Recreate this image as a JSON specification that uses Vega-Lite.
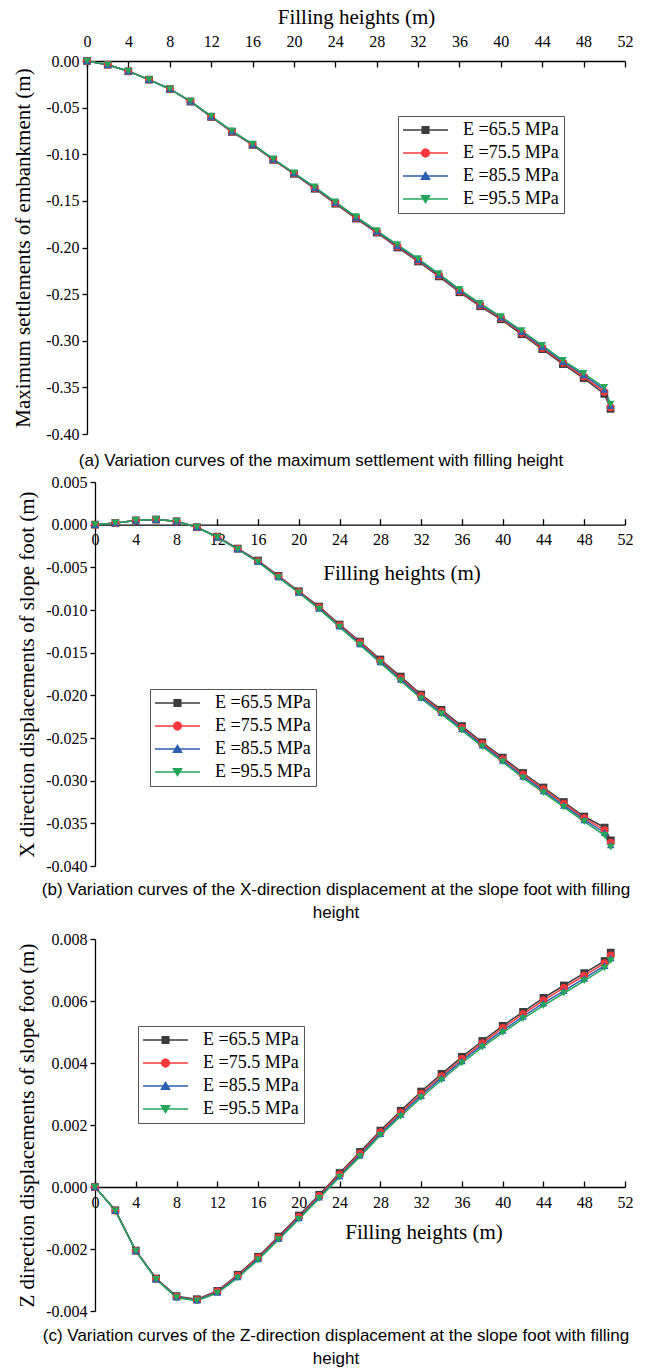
{
  "$schema": "https://vega.github.io/schema/vega-lite/v6.json",
  "background": "white",
  "padding": {"left": 12, "top": 6, "right": 0, "bottom": 0},
  "config": {
    "view": {"stroke": null},
    "axis": {"labelFlush": false, "labelOverlap": false, "grid": false, "domainColor": "#000", "tickColor": "#000", "labelColor": "#000", "titleColor": "#000", "labelFont": "Liberation Serif", "titleFont": "Liberation Serif", "labelFontSize": 16, "titleFontSize": 21, "titleFontWeight": "normal", "domainWidth": 1.3, "tickWidth": 1.3},
    "title": {"font": "Liberation Sans", "fontSize": 17, "fontWeight": "normal", "color": "#000", "lineHeight": 23}
  },
  "datasets": {
    "main": [
      {"h":0,"s":"65.5","a":0,"b":0,"c":0},
      {"h":2,"s":"65.5","a":-0.004,"b":0.0002,"c":-0.00075},
      {"h":4,"s":"65.5","a":-0.011,"b":0.0005,"c":-0.00205},
      {"h":6,"s":"65.5","a":-0.020,"b":0.0006,"c":-0.00295},
      {"h":8,"s":"65.5","a":-0.030,"b":0.0004,"c":-0.00352},
      {"h":10,"s":"65.5","a":-0.0435,"b":-0.0003,"c":-0.00362},
      {"h":12,"s":"65.5","a":-0.060,"b":-0.0014,"c":-0.00335},
      {"h":14,"s":"65.5","a":-0.076,"b":-0.0028,"c":-0.00283},
      {"h":16,"s":"65.5","a":-0.090,"b":-0.0042,"c":-0.00225},
      {"h":18,"s":"65.5","a":-0.106,"b":-0.0060,"c":-0.0016},
      {"h":20,"s":"65.5","a":-0.121,"b":-0.0078,"c":-0.00092},
      {"h":22,"s":"65.5","a":-0.137,"b":-0.0096,"c":-0.00025},
      {"h":24,"s":"65.5","a":-0.153,"b":-0.0117,"c":0.00045},
      {"h":26,"s":"65.5","a":-0.169,"b":-0.0137,"c":0.00113},
      {"h":28,"s":"65.5","a":-0.184,"b":-0.0158,"c":0.00182},
      {"h":30,"s":"65.5","a":-0.200,"b":-0.0178,"c":0.00246},
      {"h":32,"s":"65.5","a":-0.215,"b":-0.0199,"c":0.00308},
      {"h":34,"s":"65.5","a":-0.231,"b":-0.0217,"c":0.00365},
      {"h":36,"s":"65.5","a":-0.248,"b":-0.0236,"c":0.0042},
      {"h":38,"s":"65.5","a":-0.263,"b":-0.0255,"c":0.00471},
      {"h":40,"s":"65.5","a":-0.277,"b":-0.0273,"c":0.0052},
      {"h":42,"s":"65.5","a":-0.293,"b":-0.0291,"c":0.00565},
      {"h":44,"s":"65.5","a":-0.309,"b":-0.0308,"c":0.0061},
      {"h":46,"s":"65.5","a":-0.325,"b":-0.0325,"c":0.0065},
      {"h":48,"s":"65.5","a":-0.340,"b":-0.0342,"c":0.0069},
      {"h":50,"s":"65.5","a":-0.357,"b":-0.0355,"c":0.00729},
      {"h":50.6,"s":"65.5","a":-0.373,"b":-0.0370,"c":0.00756},
      {"h":0,"s":"75.5","a":0,"b":0,"c":0},
      {"h":2,"s":"75.5","a":-0.004,"b":0.0002,"c":-0.00076},
      {"h":4,"s":"75.5","a":-0.011,"b":0.0005,"c":-0.00206},
      {"h":6,"s":"75.5","a":-0.020,"b":0.0006,"c":-0.00296},
      {"h":8,"s":"75.5","a":-0.030,"b":0.0004,"c":-0.00354},
      {"h":10,"s":"75.5","a":-0.0433,"b":-0.0003,"c":-0.00364},
      {"h":12,"s":"75.5","a":-0.0597,"b":-0.00143,"c":-0.00337},
      {"h":14,"s":"75.5","a":-0.0757,"b":-0.00283,"c":-0.00286},
      {"h":16,"s":"75.5","a":-0.0897,"b":-0.00427,"c":-0.00228},
      {"h":18,"s":"75.5","a":-0.1057,"b":-0.00607,"c":-0.00163},
      {"h":20,"s":"75.5","a":-0.1207,"b":-0.00787,"c":-0.00096},
      {"h":22,"s":"75.5","a":-0.1363,"b":-0.0097,"c":-0.00029},
      {"h":24,"s":"75.5","a":-0.1523,"b":-0.0118,"c":0.00041},
      {"h":26,"s":"75.5","a":-0.1683,"b":-0.01383,"c":0.00108},
      {"h":28,"s":"75.5","a":-0.1833,"b":-0.01593,"c":0.00177},
      {"h":30,"s":"75.5","a":-0.199,"b":-0.01797,"c":0.0024},
      {"h":32,"s":"75.5","a":-0.214,"b":-0.02007,"c":0.00301},
      {"h":34,"s":"75.5","a":-0.230,"b":-0.02187,"c":0.00358},
      {"h":36,"s":"75.5","a":-0.247,"b":-0.02377,"c":0.00413},
      {"h":38,"s":"75.5","a":-0.262,"b":-0.02567,"c":0.00464},
      {"h":40,"s":"75.5","a":-0.276,"b":-0.02747,"c":0.00513},
      {"h":42,"s":"75.5","a":-0.2917,"b":-0.0293,"c":0.00558},
      {"h":44,"s":"75.5","a":-0.3077,"b":-0.031,"c":0.00602},
      {"h":46,"s":"75.5","a":-0.3237,"b":-0.0327,"c":0.00642},
      {"h":48,"s":"75.5","a":-0.3384,"b":-0.0344,"c":0.00682},
      {"h":50,"s":"75.5","a":-0.3547,"b":-0.0358,"c":0.00722},
      {"h":50.6,"s":"75.5","a":-0.3714,"b":-0.03726,"c":0.00747},
      {"h":0,"s":"85.5","a":0,"b":0,"c":0},
      {"h":2,"s":"85.5","a":-0.004,"b":0.0002,"c":-0.00076},
      {"h":4,"s":"85.5","a":-0.011,"b":0.0005,"c":-0.00206},
      {"h":6,"s":"85.5","a":-0.020,"b":0.0006,"c":-0.00297},
      {"h":8,"s":"85.5","a":-0.030,"b":0.0004,"c":-0.00355},
      {"h":10,"s":"85.5","a":-0.0432,"b":-0.0003,"c":-0.00365},
      {"h":12,"s":"85.5","a":-0.0593,"b":-0.00147,"c":-0.0034},
      {"h":14,"s":"85.5","a":-0.0753,"b":-0.00287,"c":-0.0029},
      {"h":16,"s":"85.5","a":-0.0893,"b":-0.00433,"c":-0.00232},
      {"h":18,"s":"85.5","a":-0.1053,"b":-0.00613,"c":-0.00167},
      {"h":20,"s":"85.5","a":-0.1203,"b":-0.00793,"c":-0.001},
      {"h":22,"s":"85.5","a":-0.1357,"b":-0.0098,"c":-0.00033},
      {"h":24,"s":"85.5","a":-0.1517,"b":-0.0119,"c":0.00036},
      {"h":26,"s":"85.5","a":-0.1677,"b":-0.01397,"c":0.00103},
      {"h":28,"s":"85.5","a":-0.1827,"b":-0.01607,"c":0.00172},
      {"h":30,"s":"85.5","a":-0.198,"b":-0.01813,"c":0.00234},
      {"h":32,"s":"85.5","a":-0.213,"b":-0.02023,"c":0.00295},
      {"h":34,"s":"85.5","a":-0.229,"b":-0.02203,"c":0.00352},
      {"h":36,"s":"85.5","a":-0.246,"b":-0.02393,"c":0.00407},
      {"h":38,"s":"85.5","a":-0.261,"b":-0.02583,"c":0.00458},
      {"h":40,"s":"85.5","a":-0.275,"b":-0.02763,"c":0.00505},
      {"h":42,"s":"85.5","a":-0.2903,"b":-0.0295,"c":0.0055},
      {"h":44,"s":"85.5","a":-0.3063,"b":-0.0312,"c":0.00593},
      {"h":46,"s":"85.5","a":-0.3223,"b":-0.0329,"c":0.00633},
      {"h":48,"s":"85.5","a":-0.3367,"b":-0.0346,"c":0.00673},
      {"h":50,"s":"85.5","a":-0.3523,"b":-0.0361,"c":0.00714},
      {"h":50.6,"s":"85.5","a":-0.3697,"b":-0.03754,"c":0.00739},
      {"h":0,"s":"95.5","a":0,"b":0,"c":0},
      {"h":2,"s":"95.5","a":-0.004,"b":0.0002,"c":-0.00077},
      {"h":4,"s":"95.5","a":-0.011,"b":0.0005,"c":-0.00207},
      {"h":6,"s":"95.5","a":-0.020,"b":0.0006,"c":-0.00298},
      {"h":8,"s":"95.5","a":-0.030,"b":0.0004,"c":-0.00357},
      {"h":10,"s":"95.5","a":-0.043,"b":-0.0003,"c":-0.00367},
      {"h":12,"s":"95.5","a":-0.059,"b":-0.0015,"c":-0.00342},
      {"h":14,"s":"95.5","a":-0.075,"b":-0.0029,"c":-0.00293},
      {"h":16,"s":"95.5","a":-0.089,"b":-0.0044,"c":-0.00235},
      {"h":18,"s":"95.5","a":-0.105,"b":-0.0062,"c":-0.0017},
      {"h":20,"s":"95.5","a":-0.120,"b":-0.0080,"c":-0.00104},
      {"h":22,"s":"95.5","a":-0.135,"b":-0.0099,"c":-0.00037},
      {"h":24,"s":"95.5","a":-0.151,"b":-0.0120,"c":0.00032},
      {"h":26,"s":"95.5","a":-0.167,"b":-0.0141,"c":0.00098},
      {"h":28,"s":"95.5","a":-0.182,"b":-0.0162,"c":0.00167},
      {"h":30,"s":"95.5","a":-0.197,"b":-0.0183,"c":0.00228},
      {"h":32,"s":"95.5","a":-0.212,"b":-0.0204,"c":0.00288},
      {"h":34,"s":"95.5","a":-0.228,"b":-0.0222,"c":0.00345},
      {"h":36,"s":"95.5","a":-0.245,"b":-0.0241,"c":0.004},
      {"h":38,"s":"95.5","a":-0.260,"b":-0.0260,"c":0.00451},
      {"h":40,"s":"95.5","a":-0.274,"b":-0.0278,"c":0.00498},
      {"h":42,"s":"95.5","a":-0.289,"b":-0.0297,"c":0.00543},
      {"h":44,"s":"95.5","a":-0.305,"b":-0.0314,"c":0.00585},
      {"h":46,"s":"95.5","a":-0.321,"b":-0.0331,"c":0.00625},
      {"h":48,"s":"95.5","a":-0.335,"b":-0.0348,"c":0.00665},
      {"h":50,"s":"95.5","a":-0.350,"b":-0.0364,"c":0.00707},
      {"h":50.6,"s":"95.5","a":-0.368,"b":-0.0378,"c":0.0073}
    ]
  },
  "bounds": "flush",
  "spacing": 48,
  "vconcat": [
    {
      "width": 538,
      "height": 373,
      "data": {"name": "main"},
      "title": {"text": "(a) Variation curves of the maximum settlement with filling height", "orient": "bottom", "frame": "group", "anchor": "middle", "offset": 11, "dx": -35},
      "encoding": {
        "x": {"field": "h", "type": "quantitative", "scale": {"domain": [0, 52], "nice": false, "zero": false},
          "axis": {"orient": "top", "title": "Filling heights (m)", "values": [0,4,8,12,16,20,24,28,32,36,40,44,48,52], "format": "d", "tickSize": -6, "labelPadding": 18, "titlePadding": 6}},
        "y": {"field": "a", "type": "quantitative", "scale": {"domain": [-0.4, 0], "nice": false},
          "axis": {"title": "Maximum settlements of embankment (m)", "values": [0,-0.05,-0.1,-0.15,-0.2,-0.25,-0.3,-0.35,-0.4], "labelExpr": "replace(format(datum.value,'.2f'),'\u2212','-')", "tickSize": 5, "labelPadding": 3, "titlePadding": 12}}
      },
      "layer": [
        {"mark": {"type": "line", "strokeWidth": 1.5},
          "encoding": {"color": {"field": "s", "type": "nominal", "scale": {"domain": ["65.5","75.5","85.5","95.5"], "range": ["#3c3c3c","#f5393b","#2b5fb0","#26a65b"]}, "legend": null}}},
        {"mark": {"type": "point", "filled": true, "size": 60, "opacity": 1},
          "encoding": {"color": {"field": "s", "type": "nominal", "scale": {"domain": ["65.5","75.5","85.5","95.5"], "range": ["#3c3c3c","#f5393b","#2b5fb0","#26a65b"]}, "legend": null},
            "shape": {"field": "s", "type": "nominal", "scale": {"domain": ["65.5","75.5","85.5","95.5"], "range": ["square","circle","triangle-up","triangle-down"]}, "legend": null}}},
        {"mark": {"type": "point", "filled": true, "opacity": 0},
          "encoding": {
            "color": {"field": "s", "type": "nominal", "scale": {"domain": ["65.5","75.5","85.5","95.5"], "range": ["#3c3c3c","#f5393b","#2b5fb0","#26a65b"]},
              "legend": {"orient": "none", "legendX": 311, "legendY": 55, "title": null, "labelExpr": "'E =' + datum.label + ' MPa'", "symbolSize": 324, "symbolStrokeWidth": 0, "symbolOffset": 13.5, "labelOffset": 28.5, "labelFont": "Liberation Serif", "labelFontSize": 18, "labelColor": "#000", "labelLimit": 300, "padding": 5, "rowPadding": 5, "strokeColor": "#555", "fillColor": "#fff", "symbolOpacity": 1}},
            "shape": {"field": "s", "type": "nominal", "scale": {"domain": ["65.5","75.5","85.5","95.5"], "range": [
              "M-2.5,-0.09H2.5V0.09H-2.5Z M-0.45,-0.45H0.45V0.45H-0.45Z",
              "M-2.5,-0.09H2.5V0.09H-2.5Z M0.52,0L0.45,0.26L0.26,0.45L0,0.52L-0.26,0.45L-0.45,0.26L-0.52,0L-0.45,-0.26L-0.26,-0.45L0,-0.52L0.26,-0.45L0.45,-0.26Z",
              "M-2.5,-0.09H2.5V0.09H-2.5Z M0,-0.55L0.6,0.45L-0.6,0.45Z",
              "M-2.5,-0.09H2.5V0.09H-2.5Z M-0.6,-0.45L0.6,-0.45L0,0.55Z"]},
              "legend": {"orient": "none", "legendX": 311, "legendY": 55, "title": null, "labelExpr": "'E =' + datum.label + ' MPa'", "symbolSize": 324, "symbolStrokeWidth": 0, "symbolOffset": 13.5, "labelOffset": 28.5, "labelFont": "Liberation Serif", "labelFontSize": 18, "labelColor": "#000", "labelLimit": 300, "padding": 5, "rowPadding": 5, "strokeColor": "#555", "fillColor": "#fff", "symbolOpacity": 1}}
          }}
      ],
      "resolve": {"scale": {"color": "independent", "shape": "independent"}}
    },
    {
      "bounds": "flush",
      "spacing": 73,
      "vconcat": [
        {
          "width": 538,
          "height": 384,
          "data": {"name": "main"},
          "title": {"text": ["(b) Variation curves of the X-direction displacement at the slope foot with filling", "height"], "orient": "bottom", "frame": "group", "anchor": "middle", "offset": 8, "dx": -20},
          "encoding": {
            "x": {"field": "h", "type": "quantitative", "scale": {"domain": [0, 52], "range": [8, 538], "nice": false, "zero": false},
              "axis": {"orient": "bottom", "offset": -341.33, "title": "Filling heights (m)", "values": [0,4,8,12,16,20,24,28,32,36,40,44,48,52], "format": "d", "tickSize": -6, "labelPadding": 13, "titleX": 314.5, "titleY": 55, "titleBaseline": "alphabetic", "titleAlign": "center"}},
            "y": {"field": "b", "type": "quantitative", "scale": {"domain": [-0.04, 0.005], "nice": false, "zero": false},
              "axis": {"offset": -8, "title": "X direction displacements of slope foot (m)", "values": [0.005,0,-0.005,-0.01,-0.015,-0.02,-0.025,-0.03,-0.035,-0.04], "labelExpr": "replace(format(datum.value,'.3f'),'\u2212','-')", "tickSize": 5, "labelPadding": 3, "titlePadding": 8}}
          },
          "layer": [
            {"mark": {"type": "line", "strokeWidth": 1.5},
              "encoding": {"color": {"field": "s", "type": "nominal", "scale": {"domain": ["65.5","75.5","85.5","95.5"], "range": ["#3c3c3c","#f5393b","#2b5fb0","#26a65b"]}, "legend": null}}},
            {"mark": {"type": "point", "filled": true, "size": 60, "opacity": 1},
              "encoding": {"color": {"field": "s", "type": "nominal", "scale": {"domain": ["65.5","75.5","85.5","95.5"], "range": ["#3c3c3c","#f5393b","#2b5fb0","#26a65b"]}, "legend": null},
                "shape": {"field": "s", "type": "nominal", "scale": {"domain": ["65.5","75.5","85.5","95.5"], "range": ["square","circle","triangle-up","triangle-down"]}, "legend": null}}},
            {"mark": {"type": "point", "filled": true, "opacity": 0},
              "encoding": {
                "color": {"field": "s", "type": "nominal", "scale": {"domain": ["65.5","75.5","85.5","95.5"], "range": ["#3c3c3c","#f5393b","#2b5fb0","#26a65b"]},
                  "legend": {"orient": "none", "legendX": 63, "legendY": 207, "title": null, "labelExpr": "'E =' + datum.label + ' MPa'", "symbolSize": 324, "symbolStrokeWidth": 0, "symbolOffset": 13.5, "labelOffset": 28.5, "labelFont": "Liberation Serif", "labelFontSize": 18, "labelColor": "#000", "labelLimit": 300, "padding": 5, "rowPadding": 5, "strokeColor": "#555", "fillColor": "#fff", "symbolOpacity": 1}},
                "shape": {"field": "s", "type": "nominal", "scale": {"domain": ["65.5","75.5","85.5","95.5"], "range": [
                  "M-2.5,-0.09H2.5V0.09H-2.5Z M-0.45,-0.45H0.45V0.45H-0.45Z",
                  "M-2.5,-0.09H2.5V0.09H-2.5Z M0.52,0L0.45,0.26L0.26,0.45L0,0.52L-0.26,0.45L-0.45,0.26L-0.52,0L-0.45,-0.26L-0.26,-0.45L0,-0.52L0.26,-0.45L0.45,-0.26Z",
                  "M-2.5,-0.09H2.5V0.09H-2.5Z M0,-0.55L0.6,0.45L-0.6,0.45Z",
                  "M-2.5,-0.09H2.5V0.09H-2.5Z M-0.6,-0.45L0.6,-0.45L0,0.55Z"]},
                  "legend": {"orient": "none", "legendX": 63, "legendY": 207, "title": null, "labelExpr": "'E =' + datum.label + ' MPa'", "symbolSize": 324, "symbolStrokeWidth": 0, "symbolOffset": 13.5, "labelOffset": 28.5, "labelFont": "Liberation Serif", "labelFontSize": 18, "labelColor": "#000", "labelLimit": 300, "padding": 5, "rowPadding": 5, "strokeColor": "#555", "fillColor": "#fff", "symbolOpacity": 1}}
              }}
          ],
          "resolve": {"scale": {"color": "independent", "shape": "independent"}}
        },
        {
          "width": 538,
          "height": 372,
          "data": {"name": "main"},
          "title": {"text": ["(c) Variation curves of the Z-direction displacement at the slope foot with filling", "height"], "orient": "bottom", "frame": "group", "anchor": "middle", "offset": 9, "dx": -20},
          "encoding": {
            "x": {"field": "h", "type": "quantitative", "scale": {"domain": [0, 52], "range": [8, 538], "nice": false, "zero": false},
              "axis": {"orient": "bottom", "offset": -124, "title": "Filling heights (m)", "values": [0,4,8,12,16,20,24,28,32,36,40,44,48,52], "format": "d", "tickSize": -6, "labelPadding": 13, "titleX": 336.5, "titleY": 51.3, "titleBaseline": "alphabetic", "titleAlign": "center"}},
            "y": {"field": "c", "type": "quantitative", "scale": {"domain": [-0.004, 0.008], "nice": false, "zero": false},
              "axis": {"offset": -8, "title": "Z direction displacements of slope foot (m)", "values": [0.008,0.006,0.004,0.002,0,-0.002,-0.004], "labelExpr": "replace(format(datum.value,'.3f'),'\u2212','-')", "tickSize": 5, "labelPadding": 3, "titlePadding": 8}}
          },
          "layer": [
            {"mark": {"type": "line", "strokeWidth": 1.5},
              "encoding": {"color": {"field": "s", "type": "nominal", "scale": {"domain": ["65.5","75.5","85.5","95.5"], "range": ["#3c3c3c","#f5393b","#2b5fb0","#26a65b"]}, "legend": null}}},
            {"mark": {"type": "point", "filled": true, "size": 60, "opacity": 1},
              "encoding": {"color": {"field": "s", "type": "nominal", "scale": {"domain": ["65.5","75.5","85.5","95.5"], "range": ["#3c3c3c","#f5393b","#2b5fb0","#26a65b"]}, "legend": null},
                "shape": {"field": "s", "type": "nominal", "scale": {"domain": ["65.5","75.5","85.5","95.5"], "range": ["square","circle","triangle-up","triangle-down"]}, "legend": null}}},
            {"mark": {"type": "point", "filled": true, "opacity": 0},
              "encoding": {
                "color": {"field": "s", "type": "nominal", "scale": {"domain": ["65.5","75.5","85.5","95.5"], "range": ["#3c3c3c","#f5393b","#2b5fb0","#26a65b"]},
                  "legend": {"orient": "none", "legendX": 51, "legendY": 87, "title": null, "labelExpr": "'E =' + datum.label + ' MPa'", "symbolSize": 324, "symbolStrokeWidth": 0, "symbolOffset": 13.5, "labelOffset": 28.5, "labelFont": "Liberation Serif", "labelFontSize": 18, "labelColor": "#000", "labelLimit": 300, "padding": 5, "rowPadding": 5, "strokeColor": "#555", "fillColor": "#fff", "symbolOpacity": 1}},
                "shape": {"field": "s", "type": "nominal", "scale": {"domain": ["65.5","75.5","85.5","95.5"], "range": [
                  "M-2.5,-0.09H2.5V0.09H-2.5Z M-0.45,-0.45H0.45V0.45H-0.45Z",
                  "M-2.5,-0.09H2.5V0.09H-2.5Z M0.52,0L0.45,0.26L0.26,0.45L0,0.52L-0.26,0.45L-0.45,0.26L-0.52,0L-0.45,-0.26L-0.26,-0.45L0,-0.52L0.26,-0.45L0.45,-0.26Z",
                  "M-2.5,-0.09H2.5V0.09H-2.5Z M0,-0.55L0.6,0.45L-0.6,0.45Z",
                  "M-2.5,-0.09H2.5V0.09H-2.5Z M-0.6,-0.45L0.6,-0.45L0,0.55Z"]},
                  "legend": {"orient": "none", "legendX": 51, "legendY": 87, "title": null, "labelExpr": "'E =' + datum.label + ' MPa'", "symbolSize": 324, "symbolStrokeWidth": 0, "symbolOffset": 13.5, "labelOffset": 28.5, "labelFont": "Liberation Serif", "labelFontSize": 18, "labelColor": "#000", "labelLimit": 300, "padding": 5, "rowPadding": 5, "strokeColor": "#555", "fillColor": "#fff", "symbolOpacity": 1}}
              }}
          ],
          "resolve": {"scale": {"color": "independent", "shape": "independent"}}
        }
      ]
    }
  ]
}
